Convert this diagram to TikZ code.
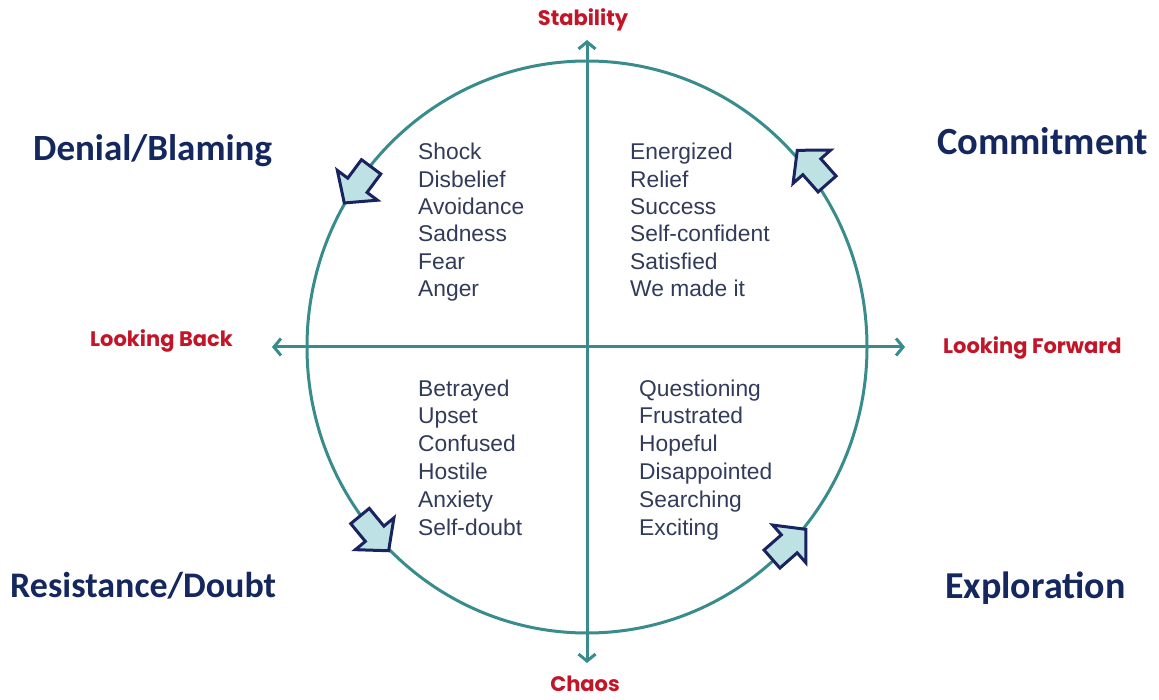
\documentclass[tikz,border=0pt]{standalone}
\usepackage{fontspec}
\setmainfont{Liberation Sans}
\newfontfamily\labfont{Poppins}
\newfontfamily\bigfont{Carlito}
\usetikzlibrary{arrows.meta}
\definecolor{tealc}{RGB}{56,140,140}
\definecolor{afill}{RGB}{190,225,228}
\definecolor{aline}{RGB}{25,35,95}
\definecolor{listc}{RGB}{50,60,90}
\definecolor{redc}{RGB}{195,20,40}
\definecolor{navyc}{RGB}{20,40,95}
\tikzset{
  circ/.style={draw=tealc, line width=3pt},
  axis/.style={draw=tealc, line width=3pt, {Straight Barb[length=7pt,width=17pt]}-{Straight Barb[length=7pt,width=17pt]}},
  barrow/.style={draw=aline, fill=afill, line width=3pt, line join=miter},
  item/.style={anchor=base west, inner sep=0pt, text=listc, font=\fontsize{22.8}{26}\selectfont},
  redlab/.style={inner sep=0pt, text=redc, font=\labfont\bfseries\fontsize{21}{24}\selectfont},
  biglab/.style={anchor=base west, inner sep=0pt, text=navyc},
  bigf/.style={font=\bigfont\bfseries\fontsize{#1}{40}\selectfont}
}
\newcommand\blockarrow[3]{%
  \begin{scope}[shift={(#1,#2)}, rotate=#3]
    \draw[barrow] (-22,-12) -- (1,-12) -- (1,-25) -- (23,0) -- (1,25) -- (1,12) -- (-22,12) -- cycle;
  \end{scope}}
\begin{document}
\begin{tikzpicture}[x=1pt,y=-1pt]
\useasboundingbox (0,0) rectangle (1159,700);
\fill[white] (0,0) rectangle (1159,700);
% circle
\draw[circ] (587,347) ellipse [x radius=280, y radius=286];
% axes
\coordinate (top) at (587,40);
\coordinate (bot) at (587,663);
\coordinate (lft) at (272,347);
\coordinate (rgt) at (905,347);
\draw[axis] (bot) -- (top);
\draw[axis] (lft) -- (rgt);
% block arrows
\blockarrow{358}{184.5}{233.4}
\blockarrow{812.5}{167.5}{131.5}
\blockarrow{374}{533}{309.5}
\blockarrow{788.5}{544.5}{41.3}
% axis labels
\node[redlab] (stab) at (583,20) {Stability};
\node[redlab] (chaos) at (585,684) {Chaos};
\node[redlab, anchor=west] (back) at (90,341) {Looking Back};
\node[redlab, anchor=west] (fwd) at (943,348) {Looking Forward};
% quadrant labels
\node[biglab, bigf=37] (deny) at (33,161) {Denial/Blaming};
\node[biglab, bigf=38.5] (comm) at (937,155) {Commitment};
\node[biglab, bigf=36] (resi) at (10,597) {Resistance/Doubt};
\node[biglab, bigf=38] (expl) at (945,598) {Exploration};
% lists
\foreach \t [count=\i] in {Shock,Disbelief,Avoidance,Sadness,Fear,Anger}
  \node[item] (tl\i) at (418,{160+27.3*(\i-1)}) {\t};
\foreach \t [count=\i] in {Energized,Relief,Success,Self-confident,Satisfied,We made it}
  \node[item] (tr\i) at (630,{160+27.3*(\i-1)}) {\t};
\foreach \t [count=\i] in {Betrayed,Upset,Confused,Hostile,Anxiety,Self-doubt}
  \node[item] (bl\i) at (418,{396+27.8*(\i-1)}) {\t};
\foreach \t [count=\i] in {Questioning,Frustrated,Hopeful,Disappointed,Searching,Exciting}
  \node[item] (br\i) at (639,{396+27.8*(\i-1)}) {\t};
\end{tikzpicture}
\end{document}
